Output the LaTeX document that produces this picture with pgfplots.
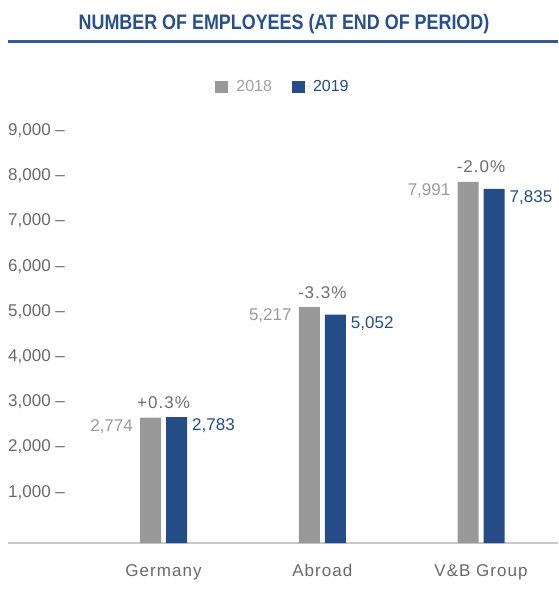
\documentclass[border=0pt]{standalone}
\usepackage{fontspec}
\setmainfont{Liberation Sans}
\newfontfamily\spaced[LetterSpace=6]{Liberation Sans}
\usepackage{pgfplots}
\pgfplotsset{compat=1.18}
\definecolor{bargray}{RGB}{153,153,153}
\definecolor{barblue}{RGB}{36,77,135}
\definecolor{titleblue}{RGB}{38,79,140}
\definecolor{lineblue}{RGB}{52,90,155}
\definecolor{ticktext}{RGB}{105,105,105}
\definecolor{pcttext}{RGB}{110,110,110}
\definecolor{valgray}{RGB}{155,155,155}
\definecolor{legray}{RGB}{160,160,160}
\definecolor{basegray}{RGB}{200,200,200}
\begin{document}
\begin{tikzpicture}
\useasboundingbox (0pt,0pt) rectangle (558pt,591pt);
\node[text=titleblue, anchor=base, inner sep=0pt] at (284pt,561pt)
  {\scalebox{0.853}[1]{\fontsize{21}{24}\selectfont\bfseries NUMBER OF EMPLOYEES (AT END OF PERIOD)}};
\draw[lineblue, line width=2.5pt] (8pt,549.7pt) -- (558pt,549.7pt);
\begin{axis}[
  at={(8pt,48pt)}, anchor=south west,
  scale only axis, width=550pt, height=406.8pt,
  xmin=-0.9795, xmax=2.485, ymin=0, ymax=9000,
  axis x line*=bottom, axis y line*=left,
  y axis line style={draw=none},
  x axis line style={basegray, line width=2pt, -},
  major tick length=0pt, tick style={draw=none},
  /pgf/number format/1000 sep={,},
  /pgf/number format/assume math mode=true,
  ytick={1000,2000,3000,4000,5000,6000,7000,8000,9000},
  yticklabel={\pgfmathprintnumber{\tick}~–},
  yticklabel style={anchor=west, inner sep=0pt, yshift=5.5pt, text=ticktext, font=\fontsize{17}{20}\selectfont},
  xtick={0,1,2},
  xticklabels={Germany,Abroad,V\&B Group},
  xticklabel style={anchor=base, inner sep=0pt, yshift=-33pt, text=ticktext, font=\spaced\fontsize{17}{20}\selectfont},
  legend style={at={(0.5,1.1217)}, anchor=center, draw=none, fill=none,
    legend columns=-1, font=\fontsize{16}{19}\selectfont,
    /tikz/every even column/.append style={column sep=18pt}},
]
\addplot[ybar, bar width=21pt, bar shift=-13pt, fill=bargray, draw=none,
  legend image code/.code={\fill[bargray] (0pt,-6.5pt) rectangle (13pt,6pt); \path (0pt,0pt) -- (19pt,0pt);},
  nodes near coords,
  every node near coord/.append style={anchor=north east, xshift=-30.5pt, yshift=-1.5pt, inner sep=0pt, text=valgray, font=\fontsize{17}{20}\selectfont}]
  coordinates {(0,2774) (1,5217) (2,7991)};
\addlegendentry{\textcolor{legray}{2018}}
\addplot[ybar, bar width=21pt, bar shift=13pt, fill=barblue, draw=none,
  legend image code/.code={\fill[barblue] (0pt,-6.5pt) rectangle (13pt,6pt); \path (0pt,0pt) -- (19pt,0pt);},
  nodes near coords,
  every node near coord/.append style={anchor=north west, xshift=28.5pt, yshift=-1.5pt, inner sep=0pt, text=barblue, font=\fontsize{17}{20}\selectfont}]
  coordinates {(0,2783) (1,5052) (2,7835)};
\addlegendentry{\textcolor{barblue}{2019}}
\addplot[draw=none, mark=none, forget plot,
  point meta=explicit symbolic,
  nodes near coords={\pgfplotspointmeta},
  every node near coord/.append style={anchor=center, yshift=15pt, inner sep=0pt, text=pcttext, font=\spaced\fontsize{17}{20}\selectfont}]
  coordinates {(0,2783) [+0.3\%] (1,5217) [-3.3\%] (2,7991) [-2.0\%]};
\end{axis}
\end{tikzpicture}
\end{document}
